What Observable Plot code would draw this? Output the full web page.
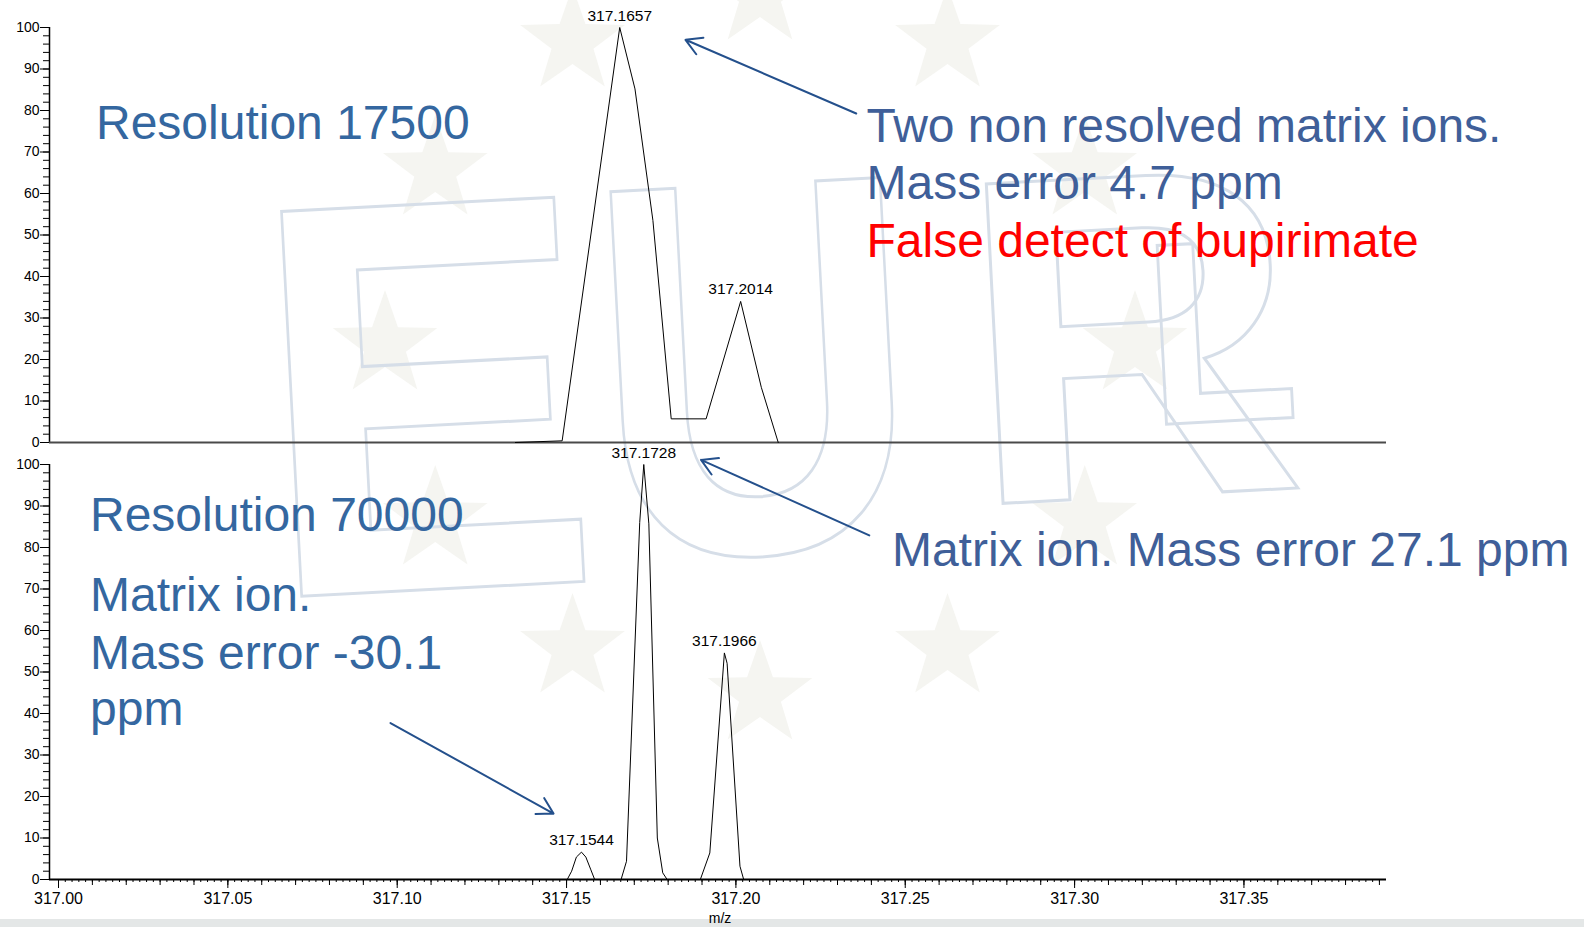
<!DOCTYPE html>
<html>
<head>
<meta charset="utf-8">
<script src="https://cdn.jsdelivr.net/npm/d3@7"></script>
<script src="https://cdn.jsdelivr.net/npm/@observablehq/plot@0.6"></script>
<style>
  html, body { margin: 0; padding: 0; background: #fff; overflow: hidden; }
  #stage { position: relative; width: 1584px; height: 927px; font-family: "Liberation Sans", Arial, sans-serif; }
  #backdrop, #chart { position: absolute; left: 0; top: 0; }
</style>
</head>
<body>
<div id="stage">
  <svg id="backdrop" width="1584" height="927"></svg>
  <div id="chart"></div>
</div>
<script>
// Two acquisitions of the same extract, one panel each
const panels = ["r17500", "r70000"];

// Profile spectrum, resolution 17 500 (m/z, relative abundance %)
const mzLow  = [317.1349, 317.1487, 317.1657, 317.1702, 317.1755, 317.1809, 317.1912, 317.2014, 317.2075, 317.2125];
const intLow = [0, 0.4, 100, 85.2, 53.5, 5.7, 5.7, 34.0, 13.3, 0];

// Profile spectrum, resolution 70 000
const mzHigh  = [317.1502, 317.1515, 317.1529, 317.1544, 317.1557, 317.1571, 317.1583,
                 317.1661, 317.1677, 317.1716, 317.1728, 317.1743, 317.1768, 317.1784, 317.1797,
                 317.1895, 317.1923, 317.1966, 317.1974, 317.2012, 317.2023];
const intHigh = [0, 2.0, 5.4, 6.6, 5.4, 2.5, 0,
                 0, 4.4, 86.0, 100, 85.7, 10.0, 1.6, 0,
                 0, 6.4, 54.6, 52.1, 3.2, 0];

// Labelled centroids
const peakPanel = ["r17500", "r17500", "r70000", "r70000", "r70000"];
const peakMz    = [317.1657, 317.2014, 317.1728, 317.1966, 317.1544];
const peakInt   = [100, 34.0, 100, 54.6, 6.6];

// Axis ticks
const xMajorTicks = [317.00, 317.05, 317.10, 317.15, 317.20, 317.25, 317.30, 317.35];
const xMidTicks   = d3.range(0, 40).map(i => 317 + i * 0.01);
const xFineTicks  = d3.range(0, 196).map(i => 317 + i * 0.002);
const yMajorTicks = [0, 10, 20, 30, 40, 50, 60, 70, 80, 90, 100];
const yMinorTicks = d3.range(0, 101, 2);

// Annotation text anchored in data space (m/z, abundance)
const notesLeft = [
  {panel: "r17500", mz: 317.01107, y: 73.22, text: "Resolution 17500"},
  {panel: "r70000", mz: 317.0093,  y: 83.98, text: "Resolution 70000"},
  {panel: "r70000", mz: 317.0093,  y: 64.73, text: "Matrix ion."},
  {panel: "r70000", mz: 317.0093,  y: 50.77, text: "Mass error -30.1"},
  {panel: "r70000", mz: 317.0093,  y: 37.30, text: "ppm"}
];
const notesRight = [
  {panel: "r17500", mz: 317.23856, y: 72.40, text: "Two non resolved matrix ions."},
  {panel: "r17500", mz: 317.23856, y: 58.78, text: "Mass error 4.7 ppm"},
  {panel: "r70000", mz: 317.24606, y: 75.56, text: "Matrix ion. Mass error 27.1 ppm"}
];
const notesAlert = [
  {panel: "r17500", mz: 317.23856, y: 44.73, text: "False detect of bupirimate"}
];
const pointers = [
  {panel: "r17500", mz1: 317.23552, y1: 79.28, mz2: 317.18512, y2: 97.04},
  {panel: "r70000", mz1: 317.23938, y1: 82.92, mz2: 317.18970, y2: 101.11},
  {panel: "r70000", mz1: 317.09802, y1: 37.71, mz2: 317.14615, y2: 15.88}
];

const profile = [
  ...mzLow.map((mz, i) => ({panel: "r17500", mz, intensity: intLow[i]})),
  ...mzHigh.map((mz, i) => ({panel: "r70000", mz, intensity: intHigh[i]}))
];
const peaks = peakMz.map((mz, i) => ({panel: peakPanel[i], mz, intensity: peakInt[i]}));

// Faint EURL watermark behind the spectra
(function drawBackdrop() {
  const bd = d3.select("#backdrop");
  const star = (cx, cy, R) => {
    const r = R * 0.40, pts = [];
    for (let k = 0; k < 10; k++) {
      const a = -Math.PI / 2 + k * Math.PI / 5, rr = k % 2 ? r : R;
      pts.push([cx + rr * Math.cos(a), cy + rr * Math.sin(a)]);
    }
    return "M" + pts.map(p => p.join(",")).join("L") + "Z";
  };
  const ring = bd.append("g").attr("fill", "#f5f5f1");
  for (let k = 0; k < 12; k++) {
    const a = k * Math.PI / 6;
    ring.append("path").attr("d", star(760 + 375 * Math.sin(a), 345 - 350 * Math.cos(a), 55));
  }
  const letters = [
    {ch: "E", x: 268, y: 598, size: 560, sx: 0.90},
    {ch: "U", x: 603, y: 560, size: 534, sx: 0.84},
    {ch: "R", x: 972, y: 505, size: 465, sx: 1.00},
    {ch: "L", x: 1150, y: 425, size: 260, sx: 0.95}
  ];
  const g = bd.append("g")
    .attr("fill", "none").attr("stroke", "#d6dee8").attr("stroke-width", 3)
    .attr("font-family", "Liberation Sans, Arial, sans-serif").attr("font-weight", "bold");
  for (const L of letters) {
    g.append("text")
      .attr("transform", `translate(${L.x},${L.y}) rotate(-3) scale(${L.sx},1)`)
      .attr("font-size", L.size)
      .text(L.ch);
  }
  bd.append("rect").attr("x", 0).attr("y", 919).attr("width", 1584).attr("height", 8).attr("fill", "#e4e7e7");
})();

const xDomain = [316.99734, 317.39209];
const leftBlue = "#3467a0", rightBlue = "#3f5f99", arrowBlue = "#24508c";

const chart = Plot.plot({
  width: 1584,
  height: 927,
  marginLeft: 49,
  marginRight: 198,
  marginTop: 27,
  marginBottom: 47,
  style: {background: "transparent", fontFamily: "Liberation Sans, Arial, sans-serif", fontSize: "14px", color: "#000", overflow: "visible"},
  x: {domain: xDomain, axis: null},
  y: {domain: [0, 100], axis: null},
  fy: {domain: panels, axis: null, paddingInner: 22 / 437.5, paddingOuter: 0},
  marks: [
    // y axis line of each panel
    Plot.ruleX(panels, {x: () => xDomain[0], y1: () => 0, y2: () => 100, fy: d => d, stroke: "#000", strokeWidth: 1.5}),
    Plot.axisY({ticks: yMinorTicks, tickSize: 6, tickFormat: () => "", label: null}),
    Plot.axisY({ticks: yMajorTicks, tickSize: 9, tickPadding: 1, fontSize: 14, label: null}),
    // m/z axis (bottom panel only)
    Plot.axisX({ticks: xFineTicks, tickSize: 3, tickFormat: () => "", label: null}),
    Plot.axisX({ticks: xMidTicks, tickSize: 6, tickFormat: () => "", label: null}),
    Plot.axisX({ticks: xMajorTicks, tickSize: 9, tickPadding: 4, tickFormat: d3.format(".2f"), fontSize: 16, label: null}),
    Plot.text(["r70000"], {fy: d => d, frameAnchor: "bottom", text: () => "m/z", dy: 39, dx: 2, fontSize: 14, lineAnchor: "middle"}),
    // baselines
    Plot.ruleY(["r17500"], {fy: d => d, y: () => 0, stroke: "#4a4a4a", strokeWidth: 2}),
    Plot.ruleY(["r70000"], {fy: d => d, y: () => 0, stroke: "#000", strokeWidth: 2}),
    // spectra
    Plot.line(profile, {x: "mz", y: "intensity", fy: "panel", z: "panel", stroke: "#000", strokeWidth: 1}),
    Plot.text(peaks, {x: "mz", y: "intensity", fy: "panel", text: d => d.mz.toFixed(4), dy: -7, lineAnchor: "bottom", fontSize: 15.5, fill: "#000"}),
    // annotations
    Plot.arrow(pointers, {x1: "mz1", y1: "y1", x2: "mz2", y2: "y2", fy: "panel", stroke: arrowBlue, strokeWidth: 2, headLength: 13.5, headAngle: 60}),
    Plot.text(notesLeft, {x: "mz", y: "y", fy: "panel", text: "text", fill: leftBlue, fontSize: 48, textAnchor: "start", lineAnchor: "bottom"}),
    Plot.text(notesRight, {x: "mz", y: "y", fy: "panel", text: "text", fill: rightBlue, fontSize: 48, textAnchor: "start", lineAnchor: "bottom"}),
    Plot.text(notesAlert, {x: "mz", y: "y", fy: "panel", text: "text", fill: "#ff0000", fontSize: 48, textAnchor: "start", lineAnchor: "bottom"})
  ]
});
document.getElementById("chart").append(chart);
</script>
</body>
</html>
